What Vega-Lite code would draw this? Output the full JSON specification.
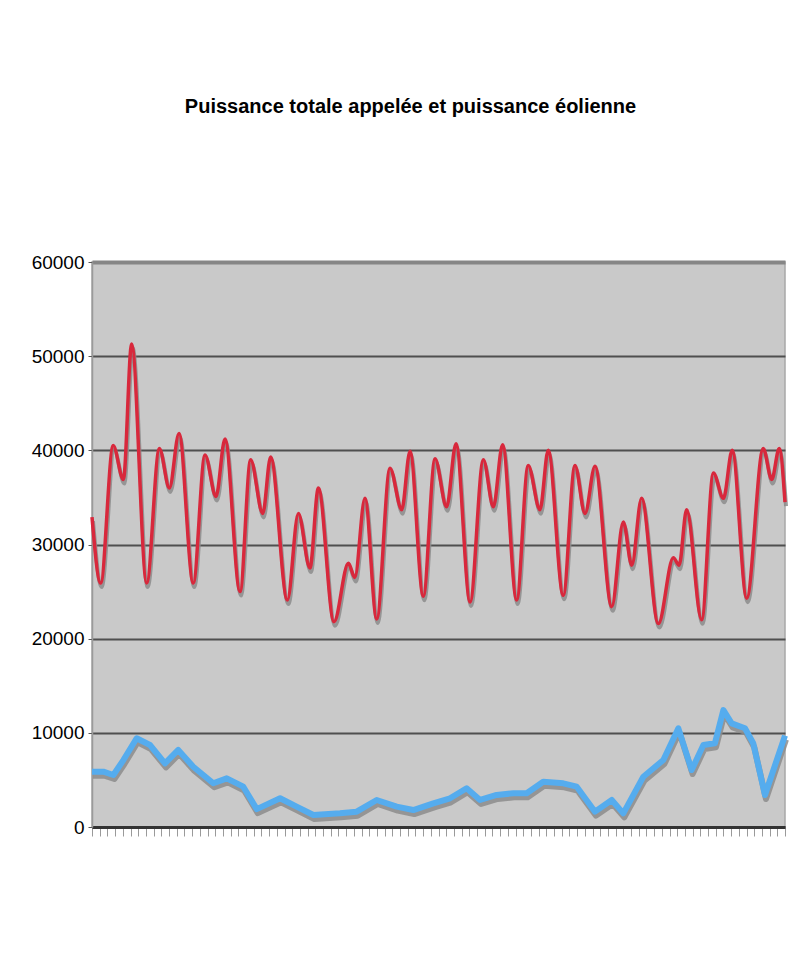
{
  "$schema": "https://vega.github.io/schema/vega-lite/v6.json",
  "autosize": "none",
  "width": 693,
  "height": 565,
  "padding": {"left": 92, "top": 262, "right": 17, "bottom": 150},
  "background": "white",
  "title": {
    "text": "Puissance totale appelée et puissance éolienne",
    "anchor": "middle",
    "frame": "group",
    "dx": -28,
    "offset": 120,
    "baseline": "alphabetic",
    "font": "Liberation Sans, Arial, sans-serif",
    "fontSize": 20,
    "fontWeight": "bold",
    "color": "#000000"
  },
  "config": {
    "view": {"fill": "#c9c9c9", "stroke": "#a8a8a8", "strokeWidth": 1.5}
  },
  "datasets": {
    "conso": [
      {"h": 0, "mw": 32900}, {"h": 4.5, "mw": 25900}, {"h": 11, "mw": 40500}, {"h": 16.3, "mw": 36900},
      {"h": 20.6, "mw": 51300}, {"h": 28.4, "mw": 25900}, {"h": 35, "mw": 40200}, {"h": 40.2, "mw": 36000},
      {"h": 45.2, "mw": 41800}, {"h": 52.6, "mw": 25900}, {"h": 58.7, "mw": 39500}, {"h": 64.4, "mw": 35100},
      {"h": 69.1, "mw": 41200}, {"h": 76.9, "mw": 25000}, {"h": 82.4, "mw": 39000}, {"h": 88.7, "mw": 33300},
      {"h": 92.8, "mw": 39300}, {"h": 101.5, "mw": 24100}, {"h": 107.2, "mw": 33300}, {"h": 113.2, "mw": 27500},
      {"h": 117.6, "mw": 36000}, {"h": 125.7, "mw": 21800}, {"h": 133.2, "mw": 28000}, {"h": 136.5, "mw": 26500},
      {"h": 141.8, "mw": 34900}, {"h": 147.9, "mw": 22100}, {"h": 154.8, "mw": 38100}, {"h": 160.9, "mw": 33700},
      {"h": 165.2, "mw": 39900}, {"h": 172.1, "mw": 24500}, {"h": 178.2, "mw": 39100}, {"h": 184.2, "mw": 34000},
      {"h": 189.1, "mw": 40700}, {"h": 196.4, "mw": 23900}, {"h": 203.3, "mw": 39000}, {"h": 208.5, "mw": 34000},
      {"h": 213.3, "mw": 40600}, {"h": 220.6, "mw": 24100}, {"h": 226.6, "mw": 38400}, {"h": 232.7, "mw": 33700},
      {"h": 237, "mw": 40000}, {"h": 244.8, "mw": 24600}, {"h": 250.9, "mw": 38400}, {"h": 256.1, "mw": 33300},
      {"h": 261.3, "mw": 38300}, {"h": 270, "mw": 23400}, {"h": 276, "mw": 32400}, {"h": 280.4, "mw": 27800},
      {"h": 285.5, "mw": 34900}, {"h": 294.2, "mw": 21600}, {"h": 302, "mw": 28600}, {"h": 305, "mw": 27800},
      {"h": 308.9, "mw": 33700}, {"h": 316.7, "mw": 22000}, {"h": 322.8, "mw": 37600}, {"h": 328, "mw": 34900},
      {"h": 332.6, "mw": 40000}, {"h": 340.1, "mw": 24300}, {"h": 348.7, "mw": 40200}, {"h": 353.1, "mw": 36900},
      {"h": 357, "mw": 40200}, {"h": 360, "mw": 34500}
    ],
    "eolien": [
      {"h": 0, "mw": 5870}, {"h": 5.9, "mw": 5870}, {"h": 11.1, "mw": 5520}, {"h": 16.3, "mw": 7110},
      {"h": 23.2, "mw": 9420}, {"h": 30.1, "mw": 8710}, {"h": 37.9, "mw": 6760}, {"h": 44.8, "mw": 8180},
      {"h": 52.6, "mw": 6400}, {"h": 63, "mw": 4640}, {"h": 70, "mw": 5170}, {"h": 78.6, "mw": 4280},
      {"h": 85.6, "mw": 1900}, {"h": 97.7, "mw": 3050}, {"h": 106.3, "mw": 2160}, {"h": 115, "mw": 1270},
      {"h": 128.8, "mw": 1450}, {"h": 137.5, "mw": 1630}, {"h": 147.9, "mw": 2870}, {"h": 158.3, "mw": 2160},
      {"h": 166.9, "mw": 1800}, {"h": 177.3, "mw": 2510}, {"h": 186, "mw": 3050}, {"h": 194.6, "mw": 4110},
      {"h": 201.6, "mw": 2870}, {"h": 210.2, "mw": 3400}, {"h": 218.9, "mw": 3580}, {"h": 225.8, "mw": 3580},
      {"h": 234.4, "mw": 4810}, {"h": 244.8, "mw": 4640}, {"h": 251.8, "mw": 4280}, {"h": 261.3, "mw": 1630},
      {"h": 270, "mw": 2870}, {"h": 276, "mw": 1450}, {"h": 286.4, "mw": 5340}, {"h": 296.8, "mw": 7110},
      {"h": 304.6, "mw": 10480}, {"h": 311.5, "mw": 6050}, {"h": 317.6, "mw": 8710}, {"h": 323.6, "mw": 8890},
      {"h": 328, "mw": 12420}, {"h": 332.3, "mw": 11010}, {"h": 339.2, "mw": 10480}, {"h": 343.5, "mw": 8890},
      {"h": 349.6, "mw": 3400}, {"h": 360, "mw": 9700}
    ]
  },
  "encoding": {
    "x": {
      "field": "h",
      "type": "quantitative",
      "scale": {"domain": [0, 360], "nice": false, "zero": false},
      "axis": {
        "title": null,
        "labels": false,
        "grid": false,
        "values": [0,4,8,12,16,20,24,28,32,36,40,44,48,52,56,60,64,68,72,76,80,84,88,92,96,100,104,108,112,116,120,124,128,132,136,140,144,148,152,156,160,164,168,172,176,180,184,188,192,196,200,204,208,212,216,220,224,228,232,236,240,244,248,252,256,260,264,268,272,276,280,284,288,292,296,300,304,308,312,316,320,324,328,332,336,340,344,348,352,356,360],
        "ticks": true,
        "tickSize": 9,
        "tickColor": "#9a9a9a",
        "tickWidth": 1,
        "domain": true,
        "domainColor": "#333333",
        "domainWidth": 3
      }
    },
    "y": {
      "field": "mw",
      "type": "quantitative",
      "scale": {"domain": [0, 60000], "nice": false},
      "axis": {
        "title": null,
        "values": [0, 10000, 20000, 30000, 40000, 50000, 60000],
        "format": "d",
        "labelFont": "Liberation Sans, Arial, sans-serif",
        "labelFontSize": 19,
        "labelColor": "#000000",
        "labelPadding": 4,
        "tickSize": 4,
        "tickColor": "#555555",
        "domain": true,
        "domainColor": "#9a9a9a",
        "domainWidth": 1.5,
        "grid": true,
        "gridColor": {"condition": {"test": "datum.value === 60000", "value": "#868686"}, "value": "#4f4f4f"},
        "gridWidth": {"condition": {"test": "datum.value === 60000", "value": 4}, "value": 2},
        "gridOpacity": 1
      }
    }
  },
  "layer": [
    {
      "data": {"name": "conso"},
      "mark": {"type": "line", "interpolate": "monotone", "color": "#8c8c8c", "strokeWidth": 4, "opacity": 0.85, "xOffset": 1, "yOffset": 4, "strokeJoin": "round"}
    },
    {
      "data": {"name": "eolien"},
      "mark": {"type": "line", "interpolate": "linear", "color": "#8c8c8c", "strokeWidth": 6, "opacity": 0.85, "xOffset": 1, "yOffset": 4, "strokeJoin": "round"}
    },
    {
      "data": {"name": "conso"},
      "mark": {"type": "line", "interpolate": "monotone", "color": "#d8283c", "strokeWidth": 3.5, "strokeJoin": "round"}
    },
    {
      "data": {"name": "eolien"},
      "mark": {"type": "line", "interpolate": "linear", "color": "#55acee", "strokeWidth": 6, "strokeJoin": "round"}
    }
  ]
}
